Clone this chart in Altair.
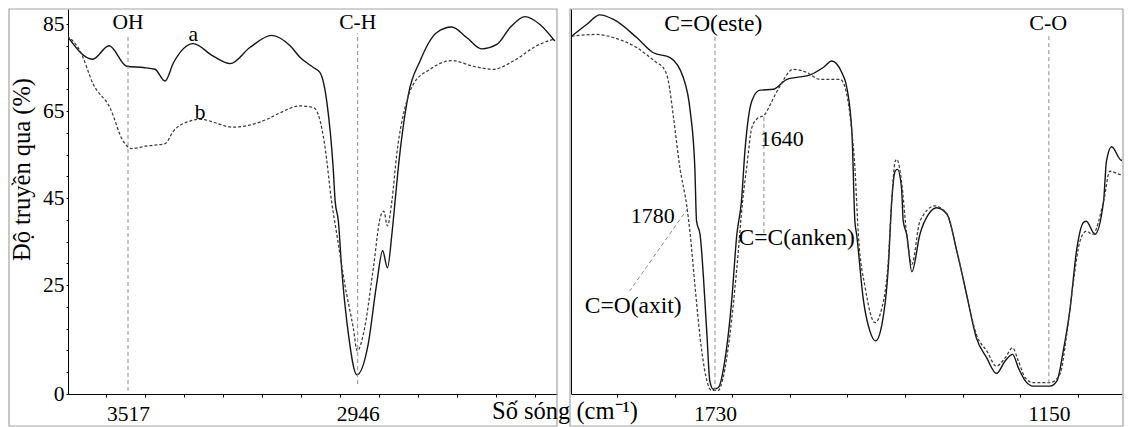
import altair as alt
import pandas as pd

# ---------------- data ----------------
left_a_wn = [3668, 3605, 3564, 3520, 3479, 3450, 3425, 3404, 3355, 3305, 3263, 3214, 3160, 3114,
             3089, 3056, 3040, 3023, 3007, 3002, 2994, 2986, 2969, 2948, 2920, 2899, 2884, 2872,
             2861, 2853, 2845, 2820, 2791, 2750, 2712, 2675, 2638, 2600, 2567, 2530, 2493, 2456]
left_a_val = [82.2, 76.9, 80.0, 75.3, 75.0, 74.6, 71.9, 76.1, 80.5, 77.6, 75.9, 79.6, 82.4, 80.0,
              77.3, 75.0, 73.9, 67.3, 52.0, 44.3, 39.7, 29.0, 13.7, 4.4, 11.4, 25.2, 32.9, 29.0,
              36.7, 44.3, 52.0, 68.8, 76.5, 83.0, 84.3, 81.9, 79.3, 80.3, 84.2, 86.7, 84.9, 81.1]

left_b_wn = [3668, 3636, 3603, 3562, 3529, 3508, 3470, 3425, 3404, 3363, 3338, 3255, 3172, 3139,
             3089, 3056, 3044, 3027, 3011, 2998, 2978, 2957, 2947, 2932, 2907, 2890, 2881, 2872,
             2861, 2849, 2824, 2808, 2766, 2712, 2659, 2609, 2559, 2501, 2460]
left_b_val = [82.2, 78.8, 71.1, 65.8, 58.1, 56.4, 57.0, 57.5, 60.4, 62.7, 63.1, 61.3, 63.1, 64.6,
              66.2, 65.8, 64.2, 56.6, 44.3, 36.7, 25.2, 15.2, 9.9, 13.7, 29.0, 40.5, 42.0, 38.6,
              44.3, 55.0, 67.3, 71.1, 74.6, 76.6, 75.3, 74.6, 76.5, 80.0, 81.5]

right_a_wn = [1979, 1953, 1930, 1907, 1866, 1837, 1808, 1785, 1773, 1765, 1762, 1756, 1744, 1739,
              1733, 1724, 1713, 1701, 1692, 1684, 1678, 1666, 1652, 1629, 1605, 1565, 1542, 1527,
              1510, 1501, 1492, 1487, 1484, 1472, 1461, 1451, 1440, 1429, 1423, 1417, 1413, 1406,
              1403, 1397, 1388, 1374, 1359, 1345, 1327, 1310, 1293, 1276, 1258, 1241, 1226, 1213,
              1203, 1191, 1177, 1148, 1136, 1125, 1113, 1102, 1090, 1085, 1070, 1055, 1050, 1041,
              1024, 1009]
right_a_val = [82.2, 84.9, 87.1, 86.1, 81.9, 78.4, 77.3, 72.7, 65.0, 52.0, 39.7, 36.7, 13.7, 3.0,
               1.1, 1.5, 7.6, 21.4, 36.7, 44.3, 55.8, 67.3, 69.8, 70.0, 72.3, 73.3, 75.0, 76.5,
               73.9, 70.4, 59.7, 39.7, 36.7, 21.4, 14.5, 12.2, 16.0, 29.0, 44.3, 51.2, 51.6, 47.4,
               39.7, 36.7, 28.1, 36.7, 41.3, 42.8, 41.3, 32.9, 22.9, 12.9, 8.3, 4.7, 7.6, 9.1,
               6.0, 3.0, 1.8, 1.8, 3.0, 9.9, 19.8, 32.9, 39.4, 39.7, 36.7, 44.3, 53.5, 56.8,
               53.7, 53.7]

right_b_wn = [1979, 1935, 1907, 1866, 1831, 1820, 1811, 1802, 1791, 1779, 1773, 1765, 1753, 1744,
              1736, 1724, 1716, 1704, 1692, 1682, 1675, 1666, 1658, 1643, 1634, 1617, 1594, 1571,
              1548, 1513, 1504, 1495, 1487, 1481, 1469, 1452, 1440, 1429, 1423, 1417, 1414, 1406,
              1397, 1388, 1374, 1348, 1327, 1310, 1293, 1276, 1258, 1241, 1226, 1213, 1203, 1191,
              1177, 1148, 1131, 1119, 1108, 1096, 1085, 1074, 1055, 1044, 1024, 1009]
right_b_val = [82.2, 82.6, 81.9, 79.6, 76.1, 75.0, 71.9, 63.5, 52.0, 43.2, 36.7, 25.2, 9.9, 3.0,
               0.85, 0.85, 3.7, 13.7, 29.0, 44.3, 52.0, 61.2, 63.1, 64.3, 66.5, 70.8, 74.6, 73.9,
               72.3, 72.3, 70.4, 63.5, 52.0, 36.7, 24.4, 16.4, 19.8, 30.6, 44.3, 53.5, 53.9, 48.9,
               36.7, 29.8, 39.7, 43.2, 41.3, 32.9, 22.9, 13.7, 9.9, 6.4, 8.3, 10.6, 7.6, 3.7,
               2.6, 2.6, 4.5, 13.7, 25.2, 35.1, 37.4, 36.7, 44.3, 51.2, 50.4, 52.0]

y_ticks = list(range(0, 90, 5))
y_labels = [0, 25, 45, 65, 85]
left_ticks = [3572, 3475, 3378, 3281, 3184, 3087, 2990, 2893, 2796, 2699, 2602, 2505]
left_labels = [3517, 2946]
right_ticks = [1900, 1800, 1700, 1600, 1500, 1400, 1300, 1200, 1100]
right_labels = [1730, 1150]

left_marks_wn = [3517, 2946]
left_marks_lo = [0.7, 2.3]
left_marks_hi = [82.2, 82.9]
left_text = ["OH", "C-H", "a", "b"]
left_text_wn = [3517, 2946, 3355, 3338]
left_text_val = [85.2, 85.2, 82.5, 64.6]

right_rule_wn = [1730, 1150, 1645, 1777]
right_rule_wn2 = [1730, 1150, 1645, 1878]
right_rule_lo = [0.7, 2.5, 37.0, 42.7]
right_rule_hi = [82.2, 82.2, 64.3, 23.7]
right_text = ["C-O", "1780", "1640"]
right_text_wn = [1151, 1838, 1614]
right_text_val = [85.2, 40.9, 58.6]
right_formula = ["C=O(este)", "C=C(anken)", "C=O(axit)"]
right_formula_wn = [1733, 1588, 1872]
right_formula_val = [85.0, 35.9, 20.2]

# ---------------- layout constants ----------------
FONT = "Liberation Serif"
LW, RW, H = 489, 551, 385
Y_MAX = 88.45
LEFT_DOM = [2450.5, 3666.2]
RIGHT_DOM = [1023.0, 1980.1]
FRAME = "#a3a3a3"
INK = "#151515"

yscale = alt.Scale(domain=[0, Y_MAX], nice=False, zero=False)


def frame(x0, x1):
    return alt.Chart(pd.DataFrame({"k": [0]})).mark_rect(
        fillOpacity=0, stroke=FRAME, strokeWidth=1.2
    ).encode(x=alt.value(x0), x2=alt.value(x1), y=alt.value(0), y2=alt.value(417))


def tick_axis_x(ticks):
    return alt.Axis(values=ticks, labels=False, tickSize=3, domain=True, orient="bottom", title=None,
                    grid=False, domainColor="black", tickColor="black")


def label_axis_x(labels):
    return alt.Axis(values=labels, format="d", ticks=False, domain=False, orient="bottom", title=None,
                    grid=False, labelOverlap=False, labelPadding=9, labelFont=FONT, labelFontSize=21.5,
                    labelColor="black", labelFlush=False)


def text_layer(df, xs, size):
    return alt.Chart(df).mark_text(font=FONT, fontSize=size, color="black", align="center",
                                   baseline="middle").encode(
        x=alt.X("wn:Q", scale=xs, axis=None), y=alt.Y("val:Q", scale=yscale, axis=None), text="t:N",
    )


def panel(a_wn, a_val, b_wn, b_val, dom, width, ticks, labels, y_tick_ax, y_label_ax, rules, texts,
          extra, fx):
    xs = alt.Scale(domain=dom, reverse=True, nice=False, zero=False)
    da = pd.DataFrame({"wn": a_wn, "val": a_val})
    db = pd.DataFrame({"wn": b_wn, "val": b_val})
    line_a = alt.Chart(da).mark_line(color=INK, strokeWidth=1.4, interpolate="monotone", clip=True).encode(
        x=alt.X("wn:Q", scale=xs, axis=tick_axis_x(ticks)),
        y=alt.Y("val:Q", scale=yscale, axis=y_tick_ax),
    )
    line_b = alt.Chart(db).mark_line(color="#3a3a3a", strokeWidth=1.25, strokeDash=[3, 2],
                                      interpolate="monotone", clip=True).encode(
        x=alt.X("wn:Q", scale=xs, axis=label_axis_x(labels)),
        y=alt.Y("val:Q", scale=yscale, axis=y_label_ax),
    )
    rule = alt.Chart(rules).mark_rule(color="#8a8a8a", strokeWidth=1, strokeDash=[4, 3]).encode(
        x=alt.X("wn:Q", scale=xs, axis=None), x2="wn2:Q",
        y=alt.Y("lo:Q", scale=yscale, axis=None), y2="hi:Q",
    )
    layers = [line_a, line_b, frame(*fx), rule]
    layers += [text_layer(df, xs, size) for df, size in texts]
    layers += extra
    return alt.layer(*layers).resolve_axis(x="independent", y="independent").properties(
        width=width, height=H)


left_y_ticks = alt.Axis(values=y_ticks, labels=False, tickSize=2, domain=True, orient="left", title=None,
                        grid=False, domainColor="black", tickColor="black")
left_y_labels = alt.Axis(
    values=y_labels, ticks=False, domain=False, orient="left", labelOverlap=False, labelPadding=4,
    labelFont=FONT, labelFontSize=21.5, labelColor="black", labelFlush=False, grid=False,
    title="Độ truyền qua (%)", titleFont=FONT, titleFontSize=24.5, titleFontWeight="normal",
    titleAngle=270, titleX=-39, titleY=160, titleAlign="center", titleBaseline="alphabetic",
    titleColor="black",
)
right_y_ticks = alt.Axis(labels=False, ticks=False, grid=False, title=None, domain=True, orient="left",
                         domainColor="black")

left_rules = pd.DataFrame({"wn": left_marks_wn, "wn2": left_marks_wn, "lo": left_marks_lo, "hi": left_marks_hi})
left_texts = pd.DataFrame({"wn": left_text_wn, "val": left_text_val, "t": left_text})
right_rules = pd.DataFrame({"wn": right_rule_wn, "wn2": right_rule_wn2, "lo": right_rule_lo, "hi": right_rule_hi})
right_texts = pd.DataFrame({"wn": right_text_wn, "val": right_text_val, "t": right_text})
right_formulas = pd.DataFrame({"wn": right_formula_wn, "val": right_formula_val, "t": right_formula})

x_title = alt.Chart(pd.DataFrame({"t": ["Số sóng (cm⁻¹)"]})).mark_text(
    font=FONT, fontSize=24.5, color="black", align="left", baseline="alphabetic"
).encode(x=alt.value(424), y=alt.value(410), text="t:N")

left = panel(left_a_wn, left_a_val, left_b_wn, left_b_val, LEFT_DOM, LW, left_ticks, left_labels,
             left_y_ticks, left_y_labels, left_rules, [(left_texts, 21.5)], [x_title], (-59, LW))
right = panel(right_a_wn, right_a_val, right_b_wn, right_b_val, RIGHT_DOM, RW, right_ticks, right_labels,
              right_y_ticks, None, right_rules, [(right_texts, 22), (right_formulas, 23.5)], [], (-1, RW + 1))

chart = alt.hconcat(left, right, spacing=14, bounds="flush").properties(padding=0).configure_view(
    strokeWidth=0
)

chart.save("out.html", embed_options={"renderer": "svg", "actions": False})
